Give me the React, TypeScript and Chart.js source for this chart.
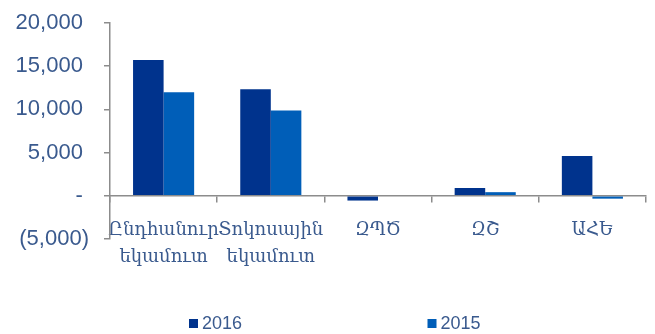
import { useEffect, useRef } from "react";
import { Chart, registerables } from "chart.js";

Chart.register(...registerables);

// Income categories (multi-line labels are arrays)
const categories: (string | string[])[] = [
  ["Ընդհանուր", "եկամուտ"],
  ["Տոկոսային", "եկամուտ"],
  "ԶՊԾ",
  "ԶՇ",
  "ԱՀԵ",
];
const seriesLabels = ["2016", "2015"];
const values2016 = [15720, 12330, -550, 900, 4600];
const values2015 = [11990, 9860, 0, 420, -330];
const yTickValues = [-5000, 0, 5000, 10000, 15000, 20000];

const COLOR_2016 = "#00338D";
const COLOR_2015 = "#005EB8";
const TEXT_COLOR = "#3A5A8E";
const AXIS_COLOR = "#8C8C8C";

const formatTick = (v: number): string => {
  if (v === 0) return "- ";
  const s = Math.abs(v).toLocaleString("en-US");
  return v < 0 ? `(${s})` : `${s} `;
};

// Legend drawn below the axis labels, two widely spaced items
const bottomLegend = {
  id: "bottomLegend",
  afterDraw(chart: any) {
    const ctx = chart.ctx as CanvasRenderingContext2D;
    const cx = chart.width / 2;
    const y = chart.height - 10.5;
    const offsets = [-138.5, 100];
    ctx.save();
    chart.data.datasets.forEach((ds: any, i: number) => {
      const x = cx + offsets[i];
      ctx.fillStyle = ds.backgroundColor;
      ctx.fillRect(x, y - 4.5, 9, 9);
      ctx.font = "18px 'Liberation Sans'";
      ctx.fillStyle = TEXT_COLOR;
      ctx.textAlign = "left";
      ctx.textBaseline = "middle";
      ctx.fillText(ds.label, x + 13, y + 0.5);
    });
    ctx.restore();
  },
};

export default function App() {
  const canvasRef = useRef<HTMLCanvasElement>(null);

  useEffect(() => {
    document.body.style.margin = "0";
    const canvas = canvasRef.current;
    if (!canvas) return;
    const chart = new Chart(canvas, {
      type: "bar",
      data: {
        labels: categories,
        datasets: [
          {
            label: seriesLabels[0],
            data: values2016,
            backgroundColor: COLOR_2016,
            borderWidth: 0,
            barPercentage: 1,
            categoryPercentage: 0.57,
          },
          {
            label: seriesLabels[1],
            data: values2015,
            backgroundColor: COLOR_2015,
            borderWidth: 0,
            barPercentage: 1,
            categoryPercentage: 0.57,
          },
        ],
      },
      options: {
        animation: false,
        responsive: false,
        maintainAspectRatio: false,
        devicePixelRatio: 1,
        layout: { padding: { top: 23, right: 9, bottom: 95, left: 0 } },
        plugins: {
          legend: { display: false },
          tooltip: { enabled: false },
        },
        scales: {
          x: {
            position: { y: 0 },
            offset: true,
            grid: {
              display: true,
              drawOnChartArea: false,
              drawTicks: true,
              tickLength: 6,
              color: AXIS_COLOR,
              lineWidth: 1.5,
            },
            border: { display: true, color: AXIS_COLOR, width: 1.5 },
            ticks: {
              color: TEXT_COLOR,
              font: { family: "'DejaVu Serif'", size: 18, lineHeight: 1.5 },
              padding: 15,
              maxRotation: 0,
              autoSkip: false,
            },
          },
          y: {
            min: -5000,
            max: 20000,
            afterBuildTicks: (s: any) => {
              s.ticks = yTickValues.map((v) => ({ value: v }));
            },
            grid: {
              display: true,
              drawOnChartArea: false,
              drawTicks: true,
              tickLength: 6,
              color: AXIS_COLOR,
              lineWidth: 1.5,
            },
            border: { display: true, color: AXIS_COLOR, width: 1.5 },
            ticks: {
              color: TEXT_COLOR,
              font: { family: "'Liberation Sans'", size: 22 },
              padding: 15,
              callback: (v: any) => formatTick(Number(v)),
            },
            afterFit: (s: any) => {
              s.width = 110;
              s.paddingTop = 0;
              s.paddingBottom = 0;
            },
          },
        },
      },
      plugins: [bottomLegend],
    });
    return () => chart.destroy();
  }, []);

  return (
    <div style={{ width: 655, height: 334 }}>
      <canvas ref={canvasRef} width={655} height={334} style={{ display: "block" }} />
    </div>
  );
}
